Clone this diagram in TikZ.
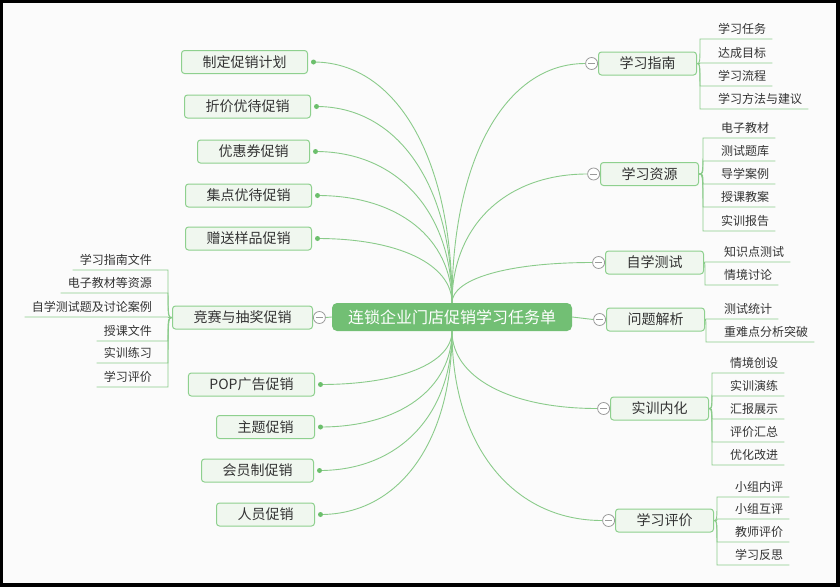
\documentclass[tikz,border=0pt]{standalone}
\usepackage{fontspec}
\newfontfamily\cjk{Noto Sans CJK SC}
\usetikzlibrary{calc}
\definecolor{bgc}{HTML}{FBFBFB}
\definecolor{edgeg}{HTML}{8ACB8A}
\definecolor{boxline}{HTML}{8ED08E}
\definecolor{boxfill}{HTML}{F0F7EF}
\definecolor{rootg}{HTML}{72BF74}
\definecolor{dotg}{HTML}{6CBF6C}
\definecolor{foldc}{HTML}{9A9A9A}
\definecolor{txt}{HTML}{333333}
\pgfdeclarelayer{bg}\pgfdeclarelayer{edges}\pgfsetlayers{bg,edges,main}
\newcommand\rootcurve[2]{\draw[edge] (#1) .. controls ($(#1)!0.6!(#1|-#2)$) and ($(#2)!0.6!(#2-|#1)$) .. (#2);}
\tikzset{
 branch/.style={draw=boxline, fill=boxfill, line width=1pt, rounded corners=3pt, minimum height=23pt, inner xsep=21pt, inner ysep=0pt, font=\cjk\fontsize{14}{16}\selectfont, text=txt},
 rootbox/.style={fill=rootg, rounded corners=5pt, minimum width=240pt, minimum height=28pt, inner sep=0pt, font=\cjk\fontsize{16}{18}\selectfont, text=white},
 leaf/.style={inner xsep=0pt, inner ysep=0pt, text height=10pt, text depth=5.5pt, font=\cjk\fontsize{12}{14}\selectfont, text=txt},
 dotn/.style={circle, fill=dotg, minimum size=5pt, inner sep=0pt},
 fold/.style={circle, draw=foldc, fill=white, line width=0.8pt, minimum size=12pt, inner sep=0pt, path picture={\draw[foldc, line width=0.8pt] ([xshift=-3.5pt]path picture bounding box.center) -- ([xshift=3.5pt]path picture bounding box.center);}},
 edge/.style={draw=edgeg, line width=0.9pt},
 leafline/.style={draw=edgeg, line width=0.9pt},
}
\begin{document}
\begin{tikzpicture}[x=1pt,y=-1pt]
\useasboundingbox (0,0) rectangle (840,587);
\begin{pgfonlayer}{bg}
\fill[black] (0,0) rectangle (840,587);
\fill[bgc] (3,3) rectangle (836,583);
\end{pgfonlayer}
% root
\node[rootbox] (root) at (452,317) {连锁企业门店促销学习任务单};
% right branches
\node[branch, anchor=west] (A) at (598,63.5) {学习指南};
\node[branch, anchor=west] (B) at (600,174) {学习资源};
\node[branch, anchor=west] (C) at (605,262.5) {自学测试};
\node[branch, anchor=west] (D) at (606,319.5) {问题解析};
\node[branch, anchor=west] (E) at (610,408.5) {实训内化};
\node[branch, anchor=west] (F) at (615,520.5) {学习评价};
\foreach \b in {A,B,C,D,E,F} \node[fold, anchor=east] (c\b) at (\b.west) {};
% left branches
\node[branch, anchor=east] (L1) at (308,62) {制定促销计划};
\node[branch, anchor=east] (L2) at (311,106.5) {折价优待促销};
\node[branch, anchor=east] (L3) at (310,151.5) {优惠券促销};
\node[branch, anchor=east] (L4) at (312,195.5) {集点优待促销};
\node[branch, anchor=east] (L5) at (312,238.5) {赠送样品促销};
\node[branch, anchor=east] (K) at (313,317.5) {竞赛与抽奖促销};
\node[branch, anchor=east] (L6) at (315,384.5) {POP广告促销};
\node[branch, anchor=east] (L7) at (315,427) {主题促销};
\node[branch, anchor=east] (L8) at (314,470.5) {会员制促销};
\node[branch, anchor=east] (L9) at (315,514.5) {人员促销};
\foreach \i in {1,...,9} \node[dotn] (d\i) at ([xshift=5.5pt]L\i.east) {};
\node[fold, anchor=west] (cK) at (K.east) {};
% leaves
\foreach \n/\y/\t in {a1/39/学习任务,a2/63/达成目标,a3/86/学习流程,a4/109/学习方法与建议}
  \node[leaf, anchor=south west] (\n) at (700,\y) {\hspace*{18pt}\t\hspace*{6pt}};
\foreach \n/\y/\t in {b1/138/电子教材,b2/161/测试题库,b3/184/导学案例,b4/207/授课教案,b5/231/实训报告}
  \node[leaf, anchor=south west] (\n) at (703,\y) {\hspace*{18pt}\t\hspace*{6pt}};
\foreach \n/\y/\t in {t1/262/知识点测试,t2/285/情境讨论}
  \node[leaf, anchor=south west] (\n) at (705,\y) {\hspace*{19pt}\t\hspace*{6pt}};
\foreach \n/\y/\t in {q1/319/测试统计,q2/342/重难点分析突破}
  \node[leaf, anchor=south west] (\n) at (706,\y) {\hspace*{18pt}\t\hspace*{6pt}};
\foreach \n/\y/\t in {r1/373/情境创设,r2/396/实训演练,r3/419/汇报展示,r4/442/评价汇总,r5/465/优化改进}
  \node[leaf, anchor=south west] (\n) at (712,\y) {\hspace*{18pt}\t\hspace*{6pt}};
\foreach \n/\y/\t in {f1/497/小组内评,f2/519/小组互评,f3/542/教师评价,f4/565/学习反思}
  \node[leaf, anchor=south west] (\n) at (717,\y) {\hspace*{18pt}\t\hspace*{6pt}};
\foreach \n/\y/\t in {k1/270/学习指南文件,k2/293/电子教材等资源,k3/317/自学测试题及讨论案例,k4/341/授课文件,k5/363/实训练习,k6/387/学习评价}
  \node[leaf, anchor=south east] (\n) at (168,\y) {\hspace*{7pt}\t\hspace*{16pt}};
% edges
\begin{pgfonlayer}{edges}
\foreach \d in {d1,d2,d3,d4,d5} {\rootcurve{root.north}{\d.center}}
\foreach \d in {d6,d7,d8,d9} {\rootcurve{root.south}{\d.center}}
\foreach \c in {cA,cB,cC} {\rootcurve{root.north}{\c.west}}
\foreach \c in {cE,cF} {\rootcurve{root.south}{\c.west}}
\draw[edge] (root.east) -- (cD.west);
\draw[edge] (root.west) -- (cK.east);
\foreach \p/\ls in {A/{a1,a2,a3,a4},B/{b1,b2,b3,b4,b5},C/{t1,t2},D/{q1,q2},E/{r1,r2,r3,r4,r5},F/{f1,f2,f3,f4}}
  \foreach \n in \ls
    \draw[leafline] (\p.east) .. controls (\p.east -| \n.south west) .. (\n.south west) -- (\n.south east);
\foreach \n in {k1,k2,k3,k4,k5,k6}
  \draw[leafline] (K.west) .. controls (K.west -| \n.south east) .. (\n.south east) -- (\n.south west);
\end{pgfonlayer}
\end{tikzpicture}
\end{document}
